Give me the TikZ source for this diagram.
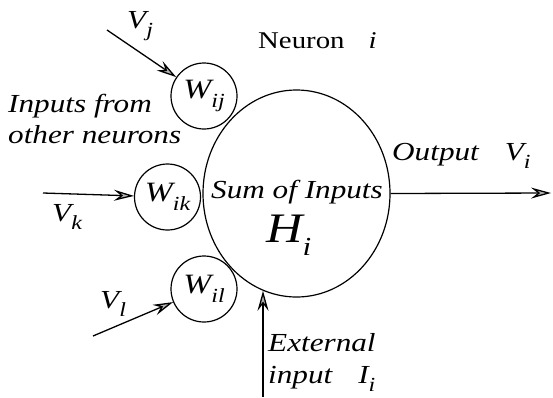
\documentclass[tikz,border=0pt]{standalone}
\usepackage{fontspec}
\setmainfont{Liberation Serif}
\newfontfamily\lblfont{Liberation Serif}[FakeStretch=1.2]
\usetikzlibrary{arrows.meta,shapes.geometric}
\newcommand\fsz[2][0]{\fontsize{#2}{#2}\selectfont}
\newcommand\sbs[2][20]{\raisebox{-0.33em}{\fsz{#1}#2}}
\begin{document}
\begin{tikzpicture}[x=1pt,y=-1pt,
  wt/.style={circle,draw,line width=1.2pt,minimum size=66pt,inner sep=0pt,
             font=\lblfont\itshape\fsz{28}},
  conn/.style={line width=1.3pt,-{Stealth[length=20pt,width=11pt,inset=7pt,fill=gray!60]}},
  lbl/.style={inner sep=0pt,font=\lblfont\itshape\fsz{26}}]
\useasboundingbox (0,0) rectangle (553,397);
% main neuron
\node[ellipse,draw,line width=1.2pt,minimum width=187pt,minimum height=207pt,inner sep=0pt] (sum) at (296.5,193.5) {};
% weights
\node[wt] (wij) at (204,96) {W\sbs{ij}};
\node[wt] (wik) at (167.5,197) {W\sbs{ik}};
\node[wt] (wil) at (204,289) {W\sbs{il}};
% free ends
\coordinate (vjs) at (107,30);
\coordinate (vks) at (43,193);
\coordinate (vls) at (93,336);
\coordinate (oute) at (551,193);
\coordinate (exts) at (264,397);
% connectors
\draw[conn] (vjs) -- (wij);
\draw[conn] (vks) -- (wik);
\draw[conn] (vls) -- (wil);
\draw[conn] (sum.east) -- (oute);
\draw[conn] (sum.251.5 |- exts) -- (sum.251.5);
% labels
\node[lbl,anchor=base west] (lvj) at (127,28) {V\sbs{j}};
\node[lbl,anchor=base west] (lvk) at (52,221) {V\sbs{k}};
\node[lbl,anchor=base west] (lvl) at (100,308) {V\sbs{l}};
\node[lbl,anchor=base west] (lout) at (392,160) {Output\quad V\sbs{i}};
\node[inner sep=0pt,anchor=base west,font=\lblfont\fsz{24}] (lneu) at (258,48) {Neuron\quad\textit{i}};
\node[lbl,anchor=north west,align=left,font=\lblfont\itshape\fontsize{26}{31}\selectfont] (linp) at (8,94) {Inputs from\\other neurons};
\node[lbl,anchor=base] (lsum) at (297,198) {Sum of Inputs};
\node[inner sep=0pt,anchor=base west,font=\lblfont\itshape\fsz{42}] (lh) at (266,242) {H\sbs[26]{i}};
\node[lbl,anchor=north west,align=left,font=\lblfont\itshape\fontsize{26}{32}\selectfont] (lext) at (268,333) {External\\input\quad I\sbs{i}};
\end{tikzpicture}
\end{document}
